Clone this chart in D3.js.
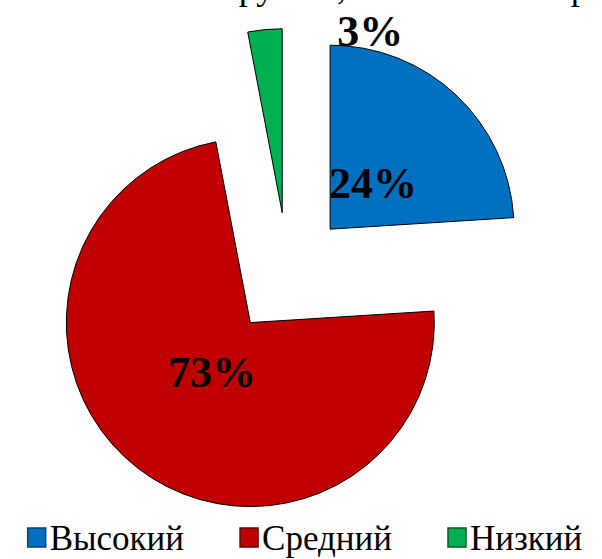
<!DOCTYPE html>
<html>
<head>
<meta charset="utf-8">
<script src="https://cdn.jsdelivr.net/npm/d3@7"></script>
<style>
  body { margin: 0; background: #fff; }
  text { font-family: "Liberation Serif", "DejaVu Serif", serif; }
  .slice { stroke: #000; stroke-width: 1; }
  .label { font-weight: bold; font-size: 44px; fill: #000; }
  .legend text { font-size: 35px; fill: #000; }
</style>
</head>
<body>
<svg width="602" height="559"></svg>
<script>
const categories = ["Высокий", "Средний", "Низкий"]
const values = [24, 73, 3]
const sliceColors = ["#0070C0", "#C00000", "#00B050"]
const edgeColors = ["#0A3F6E", "#5E0A0A", "#0A5A2E"]
const captionTail = "группы, на основании результатов"

const svg = d3.select("svg"),
      cx = 288, cy = 274,
      radius = 184,
      explode = 61.5

const color = d3.scaleOrdinal().domain(categories).range(sliceColors),
      edge = d3.scaleOrdinal().domain(categories).range(edgeColors)

// caption line above the chart, cut off by the top edge (only descenders show)
svg.append("text")
  .attr("x", 224)
  .attr("y", -1)
  .style("font-size", "36px")
  .text(captionTail)

const pie = d3.pie().sort(null).value(d => d.value)
const arcs = pie(categories.map((c, i) => ({category: c, value: values[i]})))

const arc = d3.arc().innerRadius(0).outerRadius(radius)
const labelArc = d3.arc().innerRadius(0).outerRadius(radius * 0.68)

const g = svg.append("g").attr("transform", "translate(" + cx + "," + cy + ")")

function offset(d) {
  const mid = (d.startAngle + d.endAngle) / 2
  return [explode * Math.sin(mid), -explode * Math.cos(mid)]
}

const slices = g.selectAll(".piece")
  .data(arcs)
  .enter().append("g")
    .attr("class", "piece")
    .attr("transform", d => "translate(" + offset(d) + ")")

slices.append("path")
  .attr("class", "slice")
  .attr("d", arc)
  .style("fill", d => color(d.data.category))

slices.append("text")
  .attr("class", "label")
  .attr("text-anchor", d => d.value < 5 ? "start" : "middle")
  .attr("dominant-baseline", "central")
  .attr("transform", function (d) {
    if (d.value < 5) {
      // small slice: label sits outside, to the right of the slice tip
      const a = d.endAngle
      return "translate(" + (radius * Math.sin(a) + 55) + "," + (-radius * Math.cos(a) + 3) + ")"
    }
    return "translate(" + labelArc.centroid(d) + ")"
  })
  .text(d => d.value + "%")

// legend
const legend = svg.append("g").attr("class", "legend")
const items = legend.selectAll(".item")
  .data(categories)
  .enter().append("g")
    .attr("class", "item")

items.append("rect")
  .attr("width", 18)
  .attr("height", 19)
  .attr("y", 528)
  .style("fill", d => color(d))
  .style("stroke", d => edge(d))
  .style("stroke-width", 1.5)

items.append("text")
  .attr("x", 22)
  .attr("y", 550)
  .text(d => d)

const widths = []
items.each(function () { widths.push(this.getBBox().width) })
const gap = 56
const total = d3.sum(widths) + gap * (widths.length - 1)
let xPos = 305 - total / 2
items.attr("transform", function (d, i) {
  const t = "translate(" + xPos + ",0)"
  xPos += widths[i] + gap
  return t
})
</script>
</body>
</html>
